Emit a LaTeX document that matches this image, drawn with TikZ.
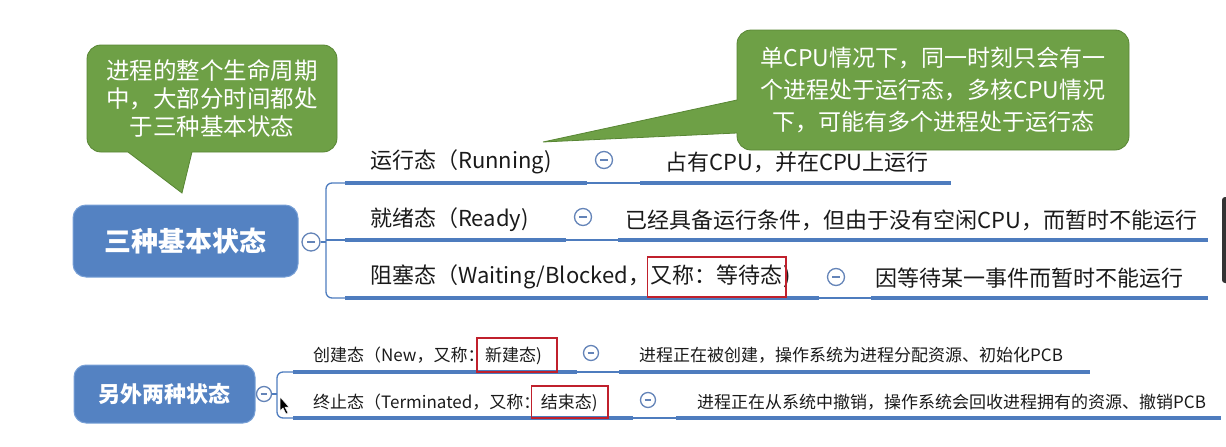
\documentclass[tikz,border=0pt]{standalone}
\usepackage{fontspec}
\newfontfamily\cjk{Noto Sans CJK SC}
\definecolor{nodeblue}{RGB}{84,130,194}
\definecolor{rootedge}{RGB}{120,160,214}
\definecolor{lineblue}{RGB}{78,124,190}
\definecolor{foldblue}{RGB}{100,132,184}
\definecolor{tipgreen}{RGB}{110,160,70}
\definecolor{tipedge}{RGB}{88,134,52}
\definecolor{markred}{RGB}{192,32,44}
\definecolor{ink}{RGB}{26,26,26}
\begin{document}
\begin{tikzpicture}[x=1pt, y=-1pt,
  rootbox/.style={draw=rootedge, fill=nodeblue, line width=1pt, rounded corners=13pt, text=white, inner sep=0pt},
  tipbox/.style={draw=tipedge, fill=tipgreen, line width=0.8pt, rounded corners=14pt, text=white, inner sep=0pt, align=center},
  bigtext/.style={font=\cjk\fontsize{22}{26}\selectfont, text=ink, inner sep=0pt, anchor=west},
  smalltext/.style={font=\cjk\fontsize{17}{20}\selectfont, text=ink, inner sep=0pt, anchor=west},
  foldbtn/.style={circle, draw=foldblue, fill=white, line width=1.3pt, minimum size=#1, inner sep=0pt,
    path picture={\draw[foldblue, line width=1.1pt] ([xshift=-0.22*#1]path picture bounding box.center) -- ([xshift=0.22*#1]path picture bounding box.center);}},
  foldbtn/.default=17pt,
  thickline/.style={draw=lineblue, line width=4pt},
  thinline/.style={draw=lineblue, line width=1.3pt},
  markbox/.style={draw=markred, line width=1.6pt}]
 \useasboundingbox (0,0) rectangle (1226,447);
 % 左上提示框
 \node[tipbox, minimum width=250, minimum height=107, font=\cjk\fontsize{23.5}{28}\selectfont] (tipL) at (212,98.5)
   {进程的整个生命周期\\中，大部分时间都处\\于三种基本状态};
 \fill[tipgreen] (128,152) -- (182,193) -- (192,152) -- (192,147) -- (128,147) -- cycle;
 \draw[tipedge, line width=0.8pt] (128,152) -- (182,193) -- (192,152);
 % 右上提示框
 \node[tipbox, minimum width=392, minimum height=120, font=\cjk\fontsize{23}{32}\selectfont] (tipR) at (933,90)
   {单CPU情况下，同一时刻只会有一\\个进程处于运行态，多核CPU情况\\下，可能有多个进程处于运行态};
 \fill[tipgreen] (737,100) -- (543,142) -- (737,133) -- (742,133) -- (742,100) -- cycle;
 \draw[tipedge, line width=0.8pt] (737,100) -- (543,142) -- (737,133);
 % 三种基本状态
 \node[rootbox, minimum width=225, minimum height=72, font=\cjk\bfseries\fontsize{27}{30}\selectfont] (root1) at (185.5,241) {三种基本状态};
 \node[foldbtn=18pt] (fold0) at (311,242) {};
 \draw[thinline] (fold0) -- (326,242);
 \draw[thinline, rounded corners=6pt] (345,183) -- (326,183) -- (326,298) -- (345,298);
 \draw[thinline] (326,240) -- (345,240);
 % 运行态
 \draw[thickline] (345,183) -- (587,183) (640,183) -- (951,183);
 \draw[thinline] (587,183) -- (640,183);
 \node[bigtext] (run) at (370,162) {运行态（Running)};
 \node[foldbtn] (fold1) at (604,160) {};
 \node[bigtext] (runD) at (665,162) {占有CPU，并在CPU上运行};
 % 就绪态
 \draw[thickline] (345,240) -- (566,240) (618,240) -- (1208,240);
 \draw[thinline] (566,240) -- (618,240);
 \node[bigtext] (ready) at (370,220) {就绪态（Ready)};
 \node[foldbtn] (fold2) at (583,217) {};
 \node[bigtext] (readyD) at (625,220) {已经具备运行条件，但由于没有空闲CPU，而暂时不能运行};
 % 阻塞态
 \draw[thickline] (345,298) -- (819,298) (871,298) -- (1208,298);
 \draw[thinline] (819,298) -- (871,298);
 \node[bigtext] (block) at (370,277) {阻塞态（Waiting/Blocked，};
 \node[bigtext, anchor=base west] (blockK) at (block.base east) {又称：等待态};
 \node[bigtext, anchor=base west] (blockE) at (blockK.base east) {)};
 \draw[markbox] ([xshift=-3pt]blockK.west |- 0,257) rectangle ([xshift=3pt]blockK.east |- 0,297);
 \node[foldbtn] (fold3) at (836,277) {};
 \node[bigtext] (blockD) at (875,278) {因等待某一事件而暂时不能运行};
 % 另外两种状态
 \node[rootbox, rounded corners=12pt, minimum width=181, minimum height=58, font=\cjk\bfseries\fontsize{22}{26}\selectfont] (root2) at (164.5,394) {另外两种状态};
 \node[foldbtn=15pt] (fold00) at (264,394) {};
 \draw[thinline] (fold00) -- (277,394);
 \draw[thinline, rounded corners=6pt] (293,372) -- (277,372) -- (277,418) -- (293,418);
 % 创建态
 \draw[thickline] (293,372) -- (577,372) (619,372) -- (1090,372);
 \draw[thinline] (577,372) -- (619,372);
 \node[smalltext] (new) at (313,355) {创建态（New，又称：};
 \node[smalltext, anchor=base west] (newK) at (new.base east) {新建态)};
 \draw[markbox] ([xshift=-8pt]newK.west |- 0,338) rectangle ([xshift=15pt]newK.east |- 0,372);
 \node[foldbtn=15pt] (foldA) at (591,353) {};
 \node[smalltext] (newD) at (639,355) {进程正在被创建，操作系统为进程分配资源、初始化PCB};
 % 终止态
 \draw[thickline] (293,418) -- (633,418) (676,418) -- (1221,418);
 \draw[thinline] (633,418) -- (676,418);
 \node[smalltext] (term) at (313,402) {终止态（Terminated，又称：};
 \node[smalltext, anchor=base west] (termK) at (term.base east) {结束态)};
 \draw[markbox] ([xshift=-9pt]termK.west |- 0,386) rectangle ([xshift=10pt]termK.east |- 0,418);
 \node[foldbtn=15pt] (foldB) at (648,400) {};
 \node[smalltext] (termD) at (697,402) {进程正在从系统中撤销，操作系统会回收进程拥有的资源、撤销PCB};
 % 鼠标与滚动条
 \fill[black!80, rounded corners=3pt] (1222,197) rectangle (1232,283);
 \filldraw[fill=black, draw=white, line width=0.5pt] (280,397) -- (280,411) -- (283,408) -- (286,414) -- (288,413) -- (285,407) -- (289,407) -- cycle;
\end{tikzpicture}
\end{document}
